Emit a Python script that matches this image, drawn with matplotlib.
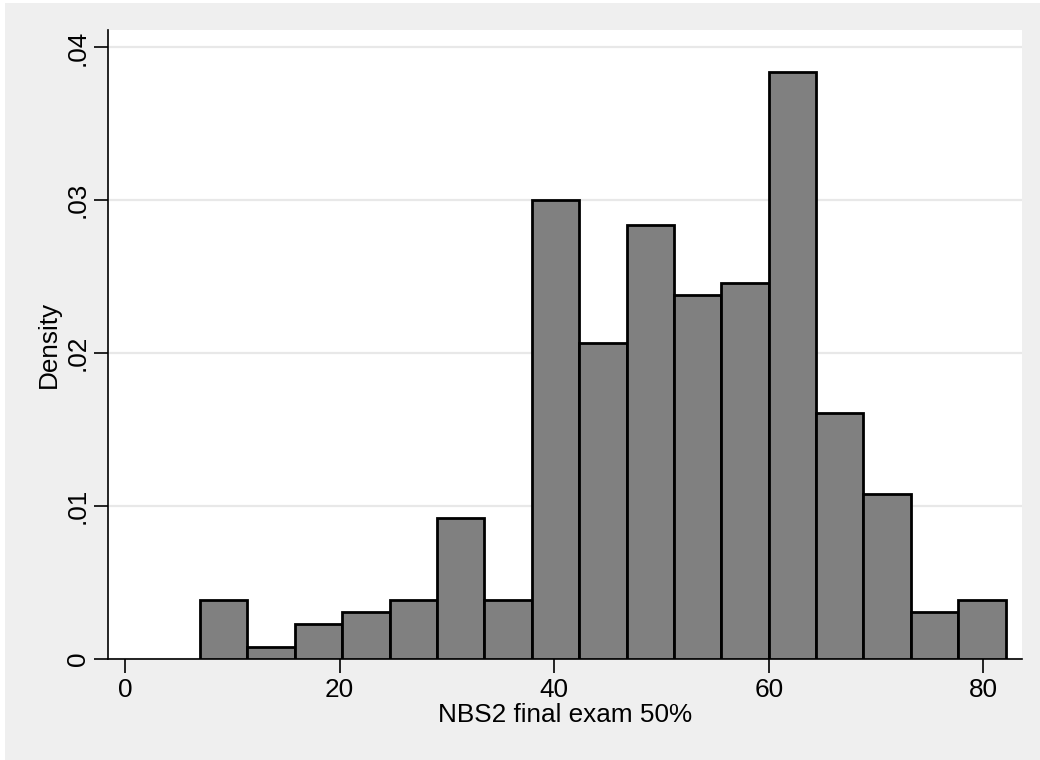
import matplotlib
matplotlib.use("Agg")
import matplotlib.pyplot as plt
from matplotlib.patches import Rectangle
import numpy as np

# Histogram of NBS2 final exam scores (density scale), 17 equal-width bins from 7 to 82
bin_start = 7.0
bin_end = 82.07
densities = [0.00386, 0.00078, 0.00229, 0.00307, 0.00386, 0.00922, 0.00386,
             0.0300, 0.0207, 0.0284, 0.0238, 0.0246, 0.0384,
             0.0161, 0.0108, 0.00307, 0.00386]
x_ticks = [0, 20, 40, 60, 80]
y_ticks = [0, 0.01, 0.02, 0.03, 0.04]
y_tick_labels = ["0", ".01", ".02", ".03", ".04"]
x_label = "NBS2 final exam 50%"
y_label = "Density"

plt.rcParams["font.family"] = ["Liberation Sans", "DejaVu Sans"]

W, H = 1040, 760
fig = plt.figure(figsize=(W / 100, H / 100), dpi=100, facecolor="white")

# light-grey graph region with a thin white margin at top/left
fig.patches.append(Rectangle((5 / W, 0), 1 - 5 / W, (H - 3) / H,
                             transform=fig.transFigure, facecolor="#efefef",
                             edgecolor="none", zorder=-10))

left, right, top, bottom = 108, 1022, 30, 659
ax = fig.add_axes([left / W, 1 - bottom / H, (right - left) / W, (bottom - top) / H])
ax.set_facecolor("white")

n = len(densities)
edges = np.linspace(bin_start, bin_end, n + 1)
widths = np.diff(edges)
ax.bar(edges[:-1], densities, width=widths, align="edge",
       color="#808080", edgecolor="black", linewidth=2.0, zorder=3)

ax.set_xlim(-1.58, 83.6)
ax.set_ylim(0, 0.04114)

ax.set_yticks(y_ticks)
ax.set_yticklabels(y_tick_labels, rotation=90, va="center")
ax.set_xticks(x_ticks)
ax.yaxis.grid(True, color="#e8e8e8", linewidth=1.6, zorder=0)
ax.set_axisbelow(True)

for side in ("top", "right"):
    ax.spines[side].set_visible(False)
for side in ("left", "bottom"):
    ax.spines[side].set_linewidth(1.2)
    ax.spines[side].set_color("black")

ax.tick_params(axis="both", length=10, width=1.2, colors="black",
               labelsize=18.8)
ax.tick_params(axis="x", pad=3.5)
ax.tick_params(axis="y", pad=3)

ax.set_xlabel(x_label, fontsize=18.8, labelpad=1)
ax.set_ylabel(y_label, fontsize=18.8, labelpad=4)

fig.savefig("out.png", dpi=100, facecolor=fig.get_facecolor())
